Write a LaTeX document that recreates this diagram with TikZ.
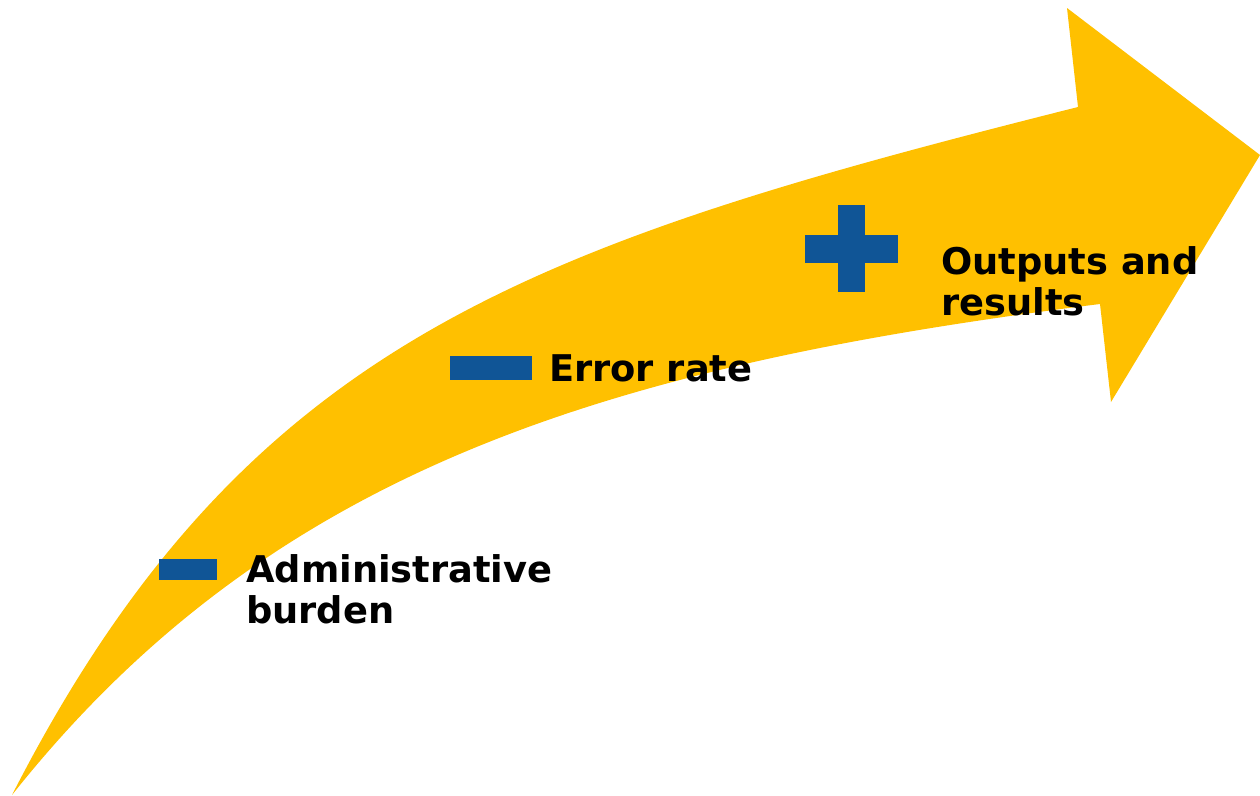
\documentclass[tikz,border=0pt]{standalone}
\usepackage{fontspec}
\setmainfont{DejaVu Sans}
\definecolor{arrowgold}{RGB}{255,192,0}
\definecolor{markblue}{RGB}{16,85,150}
\begin{document}
\begin{tikzpicture}[x=1pt,y=-1pt,
  txt/.style={font=\bfseries\fontsize{36.8}{41}\selectfont, anchor=base west, inner sep=0pt, align=left, text=black},
  bar/.style={fill=markblue}]
\useasboundingbox (0,0) rectangle (1260,795);
\fill[arrowgold] (12,795) .. controls (245,340) and (530,245) .. (1078,107)
  -- (1067,8) -- (1260,155) -- (1111,402) -- (1100,304)
  .. controls (605,366) and (270,470) .. (12,795) -- cycle;
\fill[bar] (159,559) rectangle (217,580);
\fill[bar] (450,356) rectangle (532,380);
\fill[bar] (838,205) rectangle (865,292);
\fill[bar] (805,235) rectangle (898,263);
\node[txt] (admin) at (246,623) {Administrative\\burden};
\node[txt] (error) at (549,381) {Error rate};
\node[txt] (outputs) at (941,315) {Outputs and\\results};
\end{tikzpicture}
\end{document}
